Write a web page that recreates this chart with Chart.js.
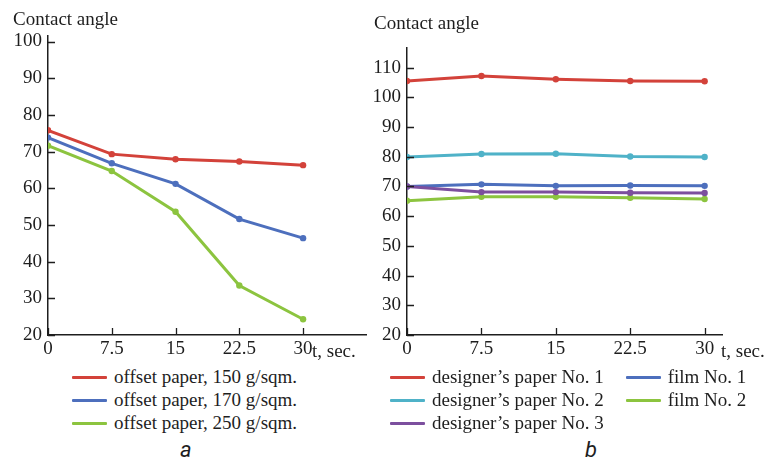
<!DOCTYPE html>
<html>
<head>
<meta charset="utf-8">
<script src="https://cdn.jsdelivr.net/npm/chart.js@4/dist/chart.umd.min.js"></script>
<style>
  body { margin: 0; background: #ffffff; }
  #page { position: relative; width: 771px; height: 462px; overflow: hidden; font-family: "Liberation Serif", "Times New Roman", serif; color: #1e1e1e; }
  canvas { position: absolute; top: 0; }
  .txt { position: absolute; font-size: 19px; line-height: 19px; white-space: nowrap; }
  .legend { position: absolute; display: grid; grid-auto-flow: column; grid-template-rows: repeat(3, 23px); column-gap: 22px; }
  .item { display: flex; align-items: center; font-size: 19px; line-height: 23px; white-space: nowrap; }
  .swatch { width: 35px; height: 3px; margin-right: 7px; margin-top: 2px; border-radius: 1px; }
  .tag { position: absolute; font-family: Roboto, "Liberation Sans", sans-serif; font-style: italic; font-size: 22px; }
</style>
</head>
<body>
<div id="page">
  <canvas id="chartA" width="375" height="363" style="left:0"></canvas>
  <canvas id="chartB" width="411" height="363" style="left:360px"></canvas>
  <span class="txt" style="left:13px;top:9px">Contact angle</span>
  <span class="txt" style="left:374px;top:13px">Contact angle</span>
  <span class="txt" style="left:312px;top:341px">t, sec.</span>
  <span class="txt" style="left:721px;top:341px">t, sec.</span>
  <div class="legend" id="legendA" style="left:72px;top:365px"></div>
  <div class="legend" id="legendB" style="left:390px;top:365px"></div>
  <span class="tag" style="left:180px;top:437px">a</span>
  <span class="tag" style="left:585px;top:437px">b</span>
</div>
<script>
// Tiempo (s) y ángulo de contacto
const timeLabels = [0, 7.5, 15, 22.5, 30];

const offset150 = [75.8, 69.3, 67.9, 67.3, 66.3];
const offset170 = [73.8, 66.8, 61.2, 51.6, 46.4];
const offset250 = [71.6, 64.7, 53.6, 33.5, 24.3];

const designer1 = [105.5, 107.2, 106.1, 105.5, 105.4];
const designer2 = [79.9, 80.9, 81.0, 80.1, 79.9];
const designer3 = [70.0, 68.1, 68.1, 67.9, 67.8];
const film1 = [70.0, 70.7, 70.2, 70.3, 70.2];
const film2 = [65.2, 66.5, 66.5, 66.2, 65.8];

const ticksA = [20, 30, 40, 50, 60, 70, 80, 90, 100];
const ticksB = [20, 30, 40, 50, 60, 70, 80, 90, 100, 110];

const RED = "#d3423a";
const BLUE = "#4d6fbd";
const GREEN = "#8cc43f";
const CYAN = "#4fb2c8";
const PURPLE = "#7c4f9e";
const INK = "#1e1e1e";
const SERIF = "'Liberation Serif', 'Times New Roman', serif";

const seriesA = [
  { label: "offset paper, 150 g/sqm.", values: offset150, color: RED },
  { label: "offset paper, 170 g/sqm.", values: offset170, color: BLUE },
  { label: "offset paper, 250 g/sqm.", values: offset250, color: GREEN },
];
const seriesB = [
  { label: "designer\u2019s paper No. 1", values: designer1, color: RED },
  { label: "designer\u2019s paper No. 2", values: designer2, color: CYAN },
  { label: "designer\u2019s paper No. 3", values: designer3, color: PURPLE },
  { label: "film No. 1", values: film1, color: BLUE },
  { label: "film No. 2", values: film2, color: GREEN },
];

// Las marcas de los ejes van hacia dentro, como en el original
const inwardTicks = {
  id: "inwardTicks",
  afterDraw(chart) {
    const { ctx } = chart;
    const x = chart.scales.x;
    const y = chart.scales.y;
    ctx.save();
    ctx.strokeStyle = INK;
    ctx.lineWidth = 1.3;
    ctx.beginPath();
    x.ticks.forEach((t) => {
      const px = Math.round(x.getPixelForValue(t.value)) + 0.5;
      ctx.moveTo(px, x.top);
      ctx.lineTo(px, x.top - 7);
    });
    y.ticks.forEach((t) => {
      const py = Math.round(y.getPixelForValue(t.value)) + 0.5;
      ctx.moveTo(y.right, py);
      ctx.lineTo(y.right + 7, py);
    });
    ctx.stroke();
    ctx.restore();
  },
};

function buildChart(id, series, opts) {
  const ctx = document.getElementById(id).getContext("2d");
  return new Chart(ctx, {
    type: "line",
    data: {
      datasets: series.map((s) => ({
        label: s.label,
        data: timeLabels.map((t, i) => ({ x: t, y: s.values[i] })),
        borderColor: s.color,
        backgroundColor: s.color,
        borderWidth: 3,
        pointRadius: 3.2,
        pointBorderWidth: 0,
        tension: 0,
      })),
    },
    options: {
      responsive: false,
      animation: false,
      devicePixelRatio: 1,
      layout: { padding: { top: opts.top, right: opts.right, left: 0, bottom: 0 } },
      plugins: { legend: { display: false }, tooltip: { enabled: false } },
      scales: {
        x: {
          type: "linear",
          min: 0,
          max: opts.xMax,
          afterBuildTicks: (scale) => {
            scale.ticks = timeLabels.map((v) => ({ value: v }));
          },
          afterFit: (scale) => {
            scale.height = 28;
          },
          grid: { display: false, drawTicks: false },
          border: { display: true, color: INK, width: 1.5 },
          ticks: {
            padding: 3,
            color: INK,
            maxRotation: 0,
            autoSkip: false,
            font: { family: SERIF, size: 19 },
            callback: (v) => String(v),
          },
        },
        y: {
          min: opts.yMin,
          max: opts.yMax,
          afterBuildTicks: (scale) => {
            scale.ticks = opts.yTicks.map((v) => ({ value: v }));
          },
          afterFit: (scale) => {
            scale.width = opts.yWidth;
          },
          grid: { display: false, drawTicks: false },
          border: { display: true, color: INK, width: 1.5 },
          ticks: {
            padding: 6,
            color: INK,
            autoSkip: false,
            font: { family: SERIF, size: 19 },
            callback: (v) => String(v),
          },
        },
      },
    },
    plugins: [inwardTicks],
  });
}

function buildLegend(id, series) {
  const box = document.getElementById(id);
  series.forEach((s) => {
    const item = document.createElement("div");
    item.className = "item";
    item.innerHTML = `<span class="swatch" style="background:${s.color}"></span>${s.label}`;
    box.appendChild(item);
  });
}

buildChart("chartA", seriesA, { top: 36, right: 9, xMax: 37.4, yMin: 20, yMax: 101.5, yTicks: ticksA, yWidth: 48 });
buildChart("chartB", seriesB, { top: 48, right: 49, xMax: 31.75, yMin: 20, yMax: 116.6, yTicks: ticksB, yWidth: 47 });
buildLegend("legendA", seriesA);
buildLegend("legendB", seriesB);
</script>
</body>
</html>
